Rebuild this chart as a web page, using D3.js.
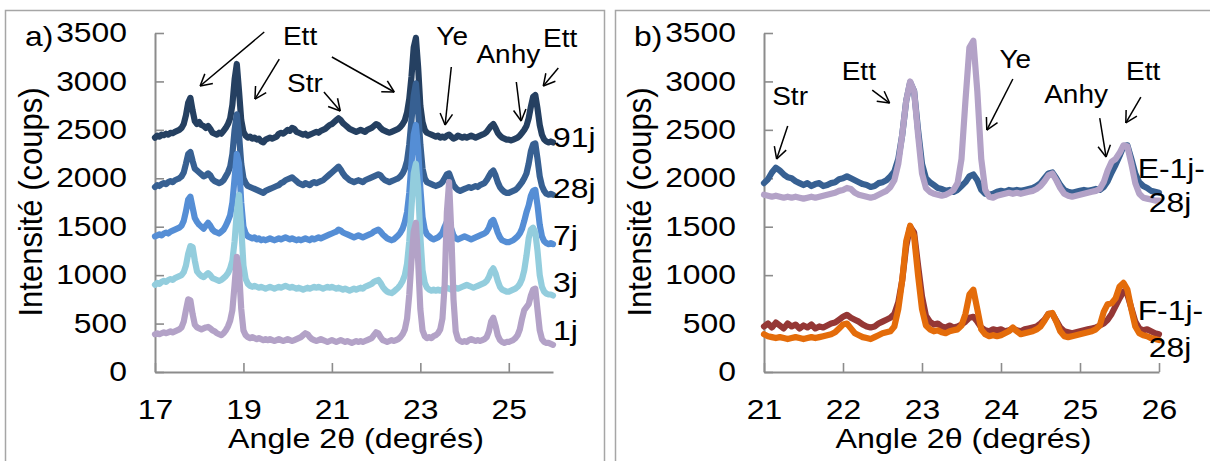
<!DOCTYPE html>
<html><head><meta charset="utf-8">
<script src="https://cdn.jsdelivr.net/npm/d3@7"></script>
<style>
body{margin:0;background:#fff}
svg{display:block}
text{font-family:"Liberation Sans",Arial,sans-serif;fill:#000}
</style>
</head><body>
<svg id="c" width="1210" height="461"></svg>
<script>
// ---------- DATA ----------
const yTicks = [0, 500, 1000, 1500, 2000, 2500, 3000, 3500];
const xTicksA = [17, 19, 21, 23, 25];
const xTicksB = [21, 22, 23, 24, 25, 26];
// angle grids (2θ, step 0.05°)
const anglesA = d3.range(181).map(i => 17 + i * 0.05);
const anglesB = d3.range(101).map(i => 21 + i * 0.05);

const seriesNamesA = ["91j", "28j", "7j", "3j", "1j"];
const s91j = [
2420,2440,2430,2450,2445,2460,2450,2470,2465,2480,2490,2500,2520,2560,2650,2780,2830,2700,2590,2560,
2580,2550,2540,2520,2540,2510,2470,2460,2450,2470,2460,2490,2520,2560,2620,2760,3020,3180,2900,2600,
2480,2440,2420,2430,2410,2420,2400,2410,2380,2370,2400,2410,2420,2410,2420,2430,2460,2470,2460,2480,
2500,2490,2520,2510,2480,2470,2460,2450,2460,2440,2450,2460,2470,2480,2470,2490,2500,2510,2530,2550,
2560,2580,2600,2620,2600,2570,2550,2530,2510,2500,2490,2480,2490,2500,2490,2480,2500,2510,2520,2540,
2560,2550,2520,2500,2490,2480,2470,2480,2490,2500,2510,2530,2560,2600,2680,2820,3050,3350,3450,3150,
2750,2580,2500,2470,2460,2450,2440,2430,2440,2420,2430,2420,2440,2450,2430,2410,2420,2440,2430,2420,
2430,2420,2430,2440,2430,2420,2430,2440,2450,2460,2480,2510,2540,2560,2520,2470,2440,2420,2410,2400,
2400,2390,2400,2410,2420,2440,2470,2500,2540,2620,2740,2840,2860,2720,2550,2450,2400,2380,2370,2380,
2370];
const s28j = [
1910,1930,1920,1940,1950,1940,1960,1970,1960,1980,1990,2000,2020,2060,2150,2250,2270,2180,2100,2080,
2060,2040,2020,2030,2050,2030,1990,1970,1960,1950,1960,1980,2020,2060,2120,2250,2500,2660,2450,2150,
2000,1950,1920,1910,1900,1890,1880,1870,1860,1850,1870,1880,1890,1900,1910,1920,1930,1950,1960,1980,
1990,2000,2010,1990,1970,1950,1940,1930,1950,1940,1930,1950,1960,1950,1960,1970,1980,2000,2020,2040,
2060,2080,2100,2120,2090,2050,2020,2000,1980,1970,1960,1970,1980,1970,1960,1980,1990,2000,2010,2020,
2030,2040,2030,2000,1980,1970,1960,1970,1980,1990,2000,2020,2050,2100,2180,2350,2600,2850,2980,2700,
2350,2100,2000,1960,1950,1940,1930,1920,1930,1940,1960,2000,2040,2050,1990,1930,1900,1880,1870,1880,
1890,1900,1910,1900,1910,1920,1910,1930,1940,1950,1980,2020,2060,2080,2030,1960,1910,1880,1860,1850,
1850,1860,1870,1880,1900,1930,1960,2000,2050,2150,2280,2350,2360,2200,2020,1920,1870,1840,1830,1840,
1830];
const s7j = [
1400,1410,1420,1410,1430,1440,1430,1450,1460,1470,1480,1490,1510,1560,1660,1780,1810,1700,1590,1550,
1520,1500,1480,1510,1540,1510,1470,1450,1440,1430,1450,1470,1510,1560,1620,1750,2000,2250,2150,1750,
1500,1430,1400,1390,1380,1390,1370,1380,1360,1370,1360,1370,1380,1370,1360,1370,1380,1370,1380,1390,
1380,1370,1380,1370,1360,1370,1360,1370,1380,1370,1360,1380,1370,1380,1390,1380,1390,1400,1410,1420,
1430,1440,1450,1470,1460,1440,1430,1420,1410,1400,1390,1400,1410,1400,1390,1400,1410,1420,1430,1450,
1460,1470,1450,1420,1400,1380,1370,1360,1370,1390,1410,1440,1480,1550,1650,1850,2150,2450,2550,2300,
1900,1600,1470,1420,1400,1380,1370,1380,1390,1410,1440,1500,1550,1560,1480,1410,1380,1370,1380,1390,
1400,1390,1380,1370,1380,1390,1400,1410,1420,1430,1450,1490,1550,1570,1510,1440,1390,1360,1350,1340,
1340,1350,1360,1380,1400,1430,1480,1560,1650,1720,1820,1870,1880,1720,1520,1400,1350,1330,1320,1330,
1320];
const s3j = [
900,920,910,930,940,930,950,960,950,970,980,990,1000,1030,1100,1220,1300,1290,1150,1040,
1010,990,980,1000,1020,1000,970,960,950,940,950,970,990,1020,1070,1150,1350,1650,1830,1500,
1100,960,910,890,880,890,880,870,880,870,860,870,880,870,860,870,880,870,880,890,
880,870,880,870,860,870,860,850,860,870,860,870,880,870,880,870,860,870,880,870,
880,870,860,870,860,850,860,850,840,850,860,850,860,870,860,880,890,900,910,930,
940,950,920,880,850,830,820,815,830,850,870,900,940,1000,1120,1350,1700,2050,2150,1900,
1400,1050,920,870,850,840,850,840,850,840,850,860,870,860,850,860,870,860,870,880,
890,900,890,880,870,880,890,900,910,920,940,980,1040,1070,1020,940,880,850,840,830,
830,840,850,860,880,910,960,1050,1200,1380,1470,1490,1440,1250,1000,880,830,810,800,800,
790];
const s1j = [
390,400,390,400,410,400,410,420,410,420,430,440,460,520,640,750,740,600,490,460,
450,440,450,460,465,450,430,420,400,390,380,400,430,470,530,640,900,1190,1050,650,
430,380,360,350,360,350,340,350,340,330,340,330,340,330,320,330,340,330,320,330,
340,330,320,330,340,350,360,380,400,390,360,340,330,320,330,340,330,320,310,320,
330,320,310,320,330,320,310,320,310,300,310,320,310,320,310,320,330,340,350,380,
410,400,360,330,320,310,320,330,320,330,340,360,390,440,550,800,1150,1450,1540,1150,
650,430,370,350,360,350,370,380,400,440,550,900,1650,1960,1450,750,420,340,320,310,
320,310,330,340,330,320,330,320,330,340,360,420,520,560,480,380,330,310,300,310,
310,320,330,350,380,440,550,640,670,700,790,850,860,640,430,340,310,300,300,290,
280];

const seriesNamesB = ["E-1j", "E-28j", "F-1j", "F-28j"];
const sE1j = [
1950,1990,2060,2110,2080,2040,2010,2000,1970,1950,1930,1950,1920,1940,1950,1920,1930,1950,1960,1990,
2000,2020,2000,1980,1960,1940,1930,1910,1920,1950,1960,1980,2020,2070,2200,2450,2800,2990,2900,2500,
2150,2000,1960,1930,1900,1890,1870,1880,1860,1880,1920,1960,2020,2040,1980,1880,1840,1830,1840,1860,
1870,1860,1880,1870,1880,1870,1880,1890,1900,1920,1950,2000,2050,2060,2000,1930,1880,1860,1850,1860,
1870,1880,1870,1880,1890,1880,1910,1970,2060,2140,2230,2330,2340,2200,2050,1960,1920,1900,1870,1860,
1850];
const sE28j = [
1830,1820,1810,1820,1810,1800,1810,1800,1810,1800,1790,1800,1810,1800,1810,1820,1830,1840,1850,1870,
1880,1900,1890,1850,1830,1820,1810,1800,1810,1830,1850,1870,1910,1980,2150,2450,2800,3000,2900,2450,
2050,1900,1860,1840,1830,1820,1830,1850,1880,1950,2200,2800,3350,3420,2900,2200,1880,1810,1800,1820,
1830,1840,1850,1840,1850,1840,1850,1860,1870,1890,1920,1970,2030,2050,1980,1900,1840,1820,1810,1820,
1830,1840,1850,1860,1870,1890,1960,2080,2170,2200,2260,2340,2330,2150,1950,1840,1800,1790,1780,1770,
1770];
const sF1j = [
470,500,460,510,480,450,500,470,490,450,480,460,490,450,470,460,480,500,510,540,
570,590,560,540,520,490,470,460,470,500,520,540,560,600,720,950,1300,1500,1440,1100,
780,580,520,490,500,470,460,480,460,470,490,520,560,570,520,460,430,420,440,430,
440,420,430,450,430,420,440,450,460,470,500,540,600,600,530,460,420,410,400,410,
420,430,440,450,460,480,500,540,600,680,760,830,800,660,520,450,430,440,420,400,
390];
const sF28j = [
390,370,360,350,360,350,340,350,360,350,340,350,360,350,360,370,380,390,410,450,
490,500,450,400,380,360,350,340,360,380,400,410,420,470,650,950,1350,1510,1400,1000,
650,480,440,420,430,410,400,420,430,440,480,600,800,850,650,440,390,370,380,370,
380,400,420,460,420,390,400,410,420,440,470,530,600,610,520,420,370,360,370,380,
390,400,410,420,440,480,620,700,710,760,880,920,850,650,470,400,380,370,350,340,
330];

// ---------- DRAWING ----------
const SX = 1.18;
const svg = d3.select("#c");

// panel frames
svg.append("rect").attr("x", 5.5).attr("y", 10.5).attr("width", 599).attr("height", 480)
  .attr("fill", "none").attr("stroke", "#a6a6a6").attr("stroke-width", 1.5);
svg.append("rect").attr("x", 615.5).attr("y", 10.5).attr("width", 640).attr("height", 480)
  .attr("fill", "none").attr("stroke", "#a6a6a6").attr("stroke-width", 1.5);

function stretchText(sel, sx) {
  sel.each(function () {
    const t = d3.select(this);
    const x = +t.attr("x") || 0, y = +t.attr("y") || 0;
    t.attr("x", null).attr("y", null).attr("transform", `translate(${x},${y}) scale(${sx},1)`);
  });
}
function label(g, x, y, str, size, anchor, sx) {
  return g.append("text")
    .attr("transform", `translate(${x},${y}) scale(${sx || SX},1)`)
    .attr("text-anchor", anchor || "start")
    .style("font-size", size + "px")
    .text(str);
}

function drawPanel(cfg) {
  const x = d3.scaleLinear().domain(cfg.domain).range([cfg.left, cfg.right]);
  const y = d3.scaleLinear().domain([0, 3500]).range([372, 33]);
  const g = svg.append("g");

  const ya = g.append("g").attr("transform", `translate(${cfg.left},0)`)
    .call(d3.axisLeft(y).tickValues(yTicks).tickSizeInner(-9).tickSizeOuter(0).tickPadding(28).tickFormat(d3.format("d")));
  const xa = g.append("g").attr("transform", `translate(0,372)`)
    .call(d3.axisBottom(x).tickValues(cfg.xTicks).tickSizeInner(-9).tickSizeOuter(0).tickPadding(28).tickFormat(d3.format("d")));
  [ya, xa].forEach(a => {
    a.select(".domain").attr("stroke", "#8c8c8c").attr("stroke-width", 2);
    a.selectAll(".tick line").attr("stroke", "#8c8c8c").attr("stroke-width", 1.6);
    a.selectAll(".tick text").attr("fill", "#000").style("font-size", "27px").call(stretchText, SX);
  });

  // series lines
  const line = d3.line().x((d, i) => x(cfg.angles[i])).y(d => y(d)).curve(d3.curveLinear);
  cfg.series.forEach(s => {
    g.append("path").datum(s.values).attr("d", line)
      .attr("fill", "none").attr("stroke", s.color).attr("stroke-width", 6.2)
      .attr("stroke-linejoin", "round").attr("stroke-linecap", "round");
  });

  // annotations with arrows
  cfg.notes.forEach(n => {
    label(g, x(n.ta), y(n.tv), n.text, 25, "middle", 1.12);
    const x1 = x(n.tail[0]), y1 = y(n.tail[1]), x2 = x(n.tip[0]), y2 = y(n.tip[1]);
    g.append("line").attr("x1", x1).attr("y1", y1).attr("x2", x2).attr("y2", y2)
      .attr("stroke", "#000").attr("stroke-width", 1.5);
    const ang = Math.atan2(y1 - y2, x1 - x2);
    [-0.5, 0.5].forEach(da => {
      g.append("line").attr("x1", x2).attr("y1", y2)
        .attr("x2", x2 + 13 * Math.cos(ang + da)).attr("y2", y2 + 13 * Math.sin(ang + da))
        .attr("stroke", "#000").attr("stroke-width", 1.5);
    });
  });

  // series labels
  cfg.labels.forEach(l => label(g, x(l.a), y(l.v), l.text, 27, "start"));

  // panel letter, axis titles
  label(g, cfg.left - 130, 46, cfg.letter, 27, "start");
  g.append("text")
    .attr("transform", `translate(${cfg.left - 113},202) rotate(-90) scale(1,1.08)`)
    .attr("text-anchor", "middle").style("font-size", "31px").text("Intensité (coups)");
  label(g, (cfg.left + cfg.right) / 2 + 2, 448, "Angle 2θ (degrés)", 28, "middle", 1.15);
}

drawPanel({
  domain: [17, 26], left: 155, right: 553, xTicks: xTicksA, angles: anglesA, letter: "a)",
  series: [
    { name: seriesNamesA[0], values: s91j, color: "#254061" },
    { name: seriesNamesA[1], values: s28j, color: "#376092" },
    { name: seriesNamesA[2], values: s7j, color: "#558ED5" },
    { name: seriesNamesA[3], values: s3j, color: "#93CDDD" },
    { name: seriesNamesA[4], values: s1j, color: "#B3A2C7" }
  ],
  notes: [
    { text: "Ett", ta: 20.28, tv: 3376, tail: [19.47, 3510], tip: [18.02, 2953] },
    { text: "", ta: 20.28, tv: 3376, tail: [19.81, 3231], tip: [19.26, 2818] },
    { text: "", ta: 20.28, tv: 3376, tail: [21.0, 3252], tip: [22.41, 2891] },
    { text: "Str", ta: 20.39, tv: 2891, tail: [20.82, 2890], tip: [21.19, 2695] },
    { text: "Ye", ta: 23.72, tv: 3376, tail: [23.70, 3149], tip: [23.56, 2550] },
    { text: "Anhy", ta: 24.99, tv: 3190, tail: [25.17, 2994], tip: [25.28, 2591] },
    { text: "Ett", ta: 26.16, tv: 3355, tail: [26.12, 3138], tip: [25.78, 2953] }
  ],
  labels: [
    { text: "91j", a: 26.0, v: 2323 },
    { text: "28j", a: 26.0, v: 1796 },
    { text: "7j", a: 26.0, v: 1311 },
    { text: "3j", a: 26.0, v: 826 },
    { text: "1j", a: 26.0, v: 330 }
  ]
});

drawPanel({
  domain: [21, 26], left: 764, right: 1159, xTicks: xTicksB, angles: anglesB, letter: "b)",
  series: [
    { name: seriesNamesB[0], values: sE1j, color: "#376092" },
    { name: seriesNamesB[1], values: sE28j, color: "#B3A2C7" },
    { name: seriesNamesB[2], values: sF1j, color: "#953735" },
    { name: seriesNamesB[3], values: sF28j, color: "#E46C0A" }
  ],
  notes: [
    { text: "Str", ta: 21.33, tv: 2757, tail: [21.30, 2540], tip: [21.16, 2199] },
    { text: "Ett", ta: 22.20, tv: 3015, tail: [22.37, 2911], tip: [22.59, 2777] },
    { text: "Ye", ta: 24.18, tv: 3139, tail: [24.15, 3025], tip: [23.82, 2498] },
    { text: "Anhy", ta: 24.95, tv: 2777, tail: [25.25, 2622], tip: [25.33, 2220] },
    { text: "Ett", ta: 25.80, tv: 3015, tail: [25.77, 2839], tip: [25.58, 2571] }
  ],
  labels: [
    { text: "E-1j-", a: 25.73, v: 2003 },
    { text: "28j", a: 25.87, v: 1652 },
    { text: "F-1j-", a: 25.73, v: 537 },
    { text: "28j", a: 25.87, v: 155 }
  ]
});
</script>
</body></html>
